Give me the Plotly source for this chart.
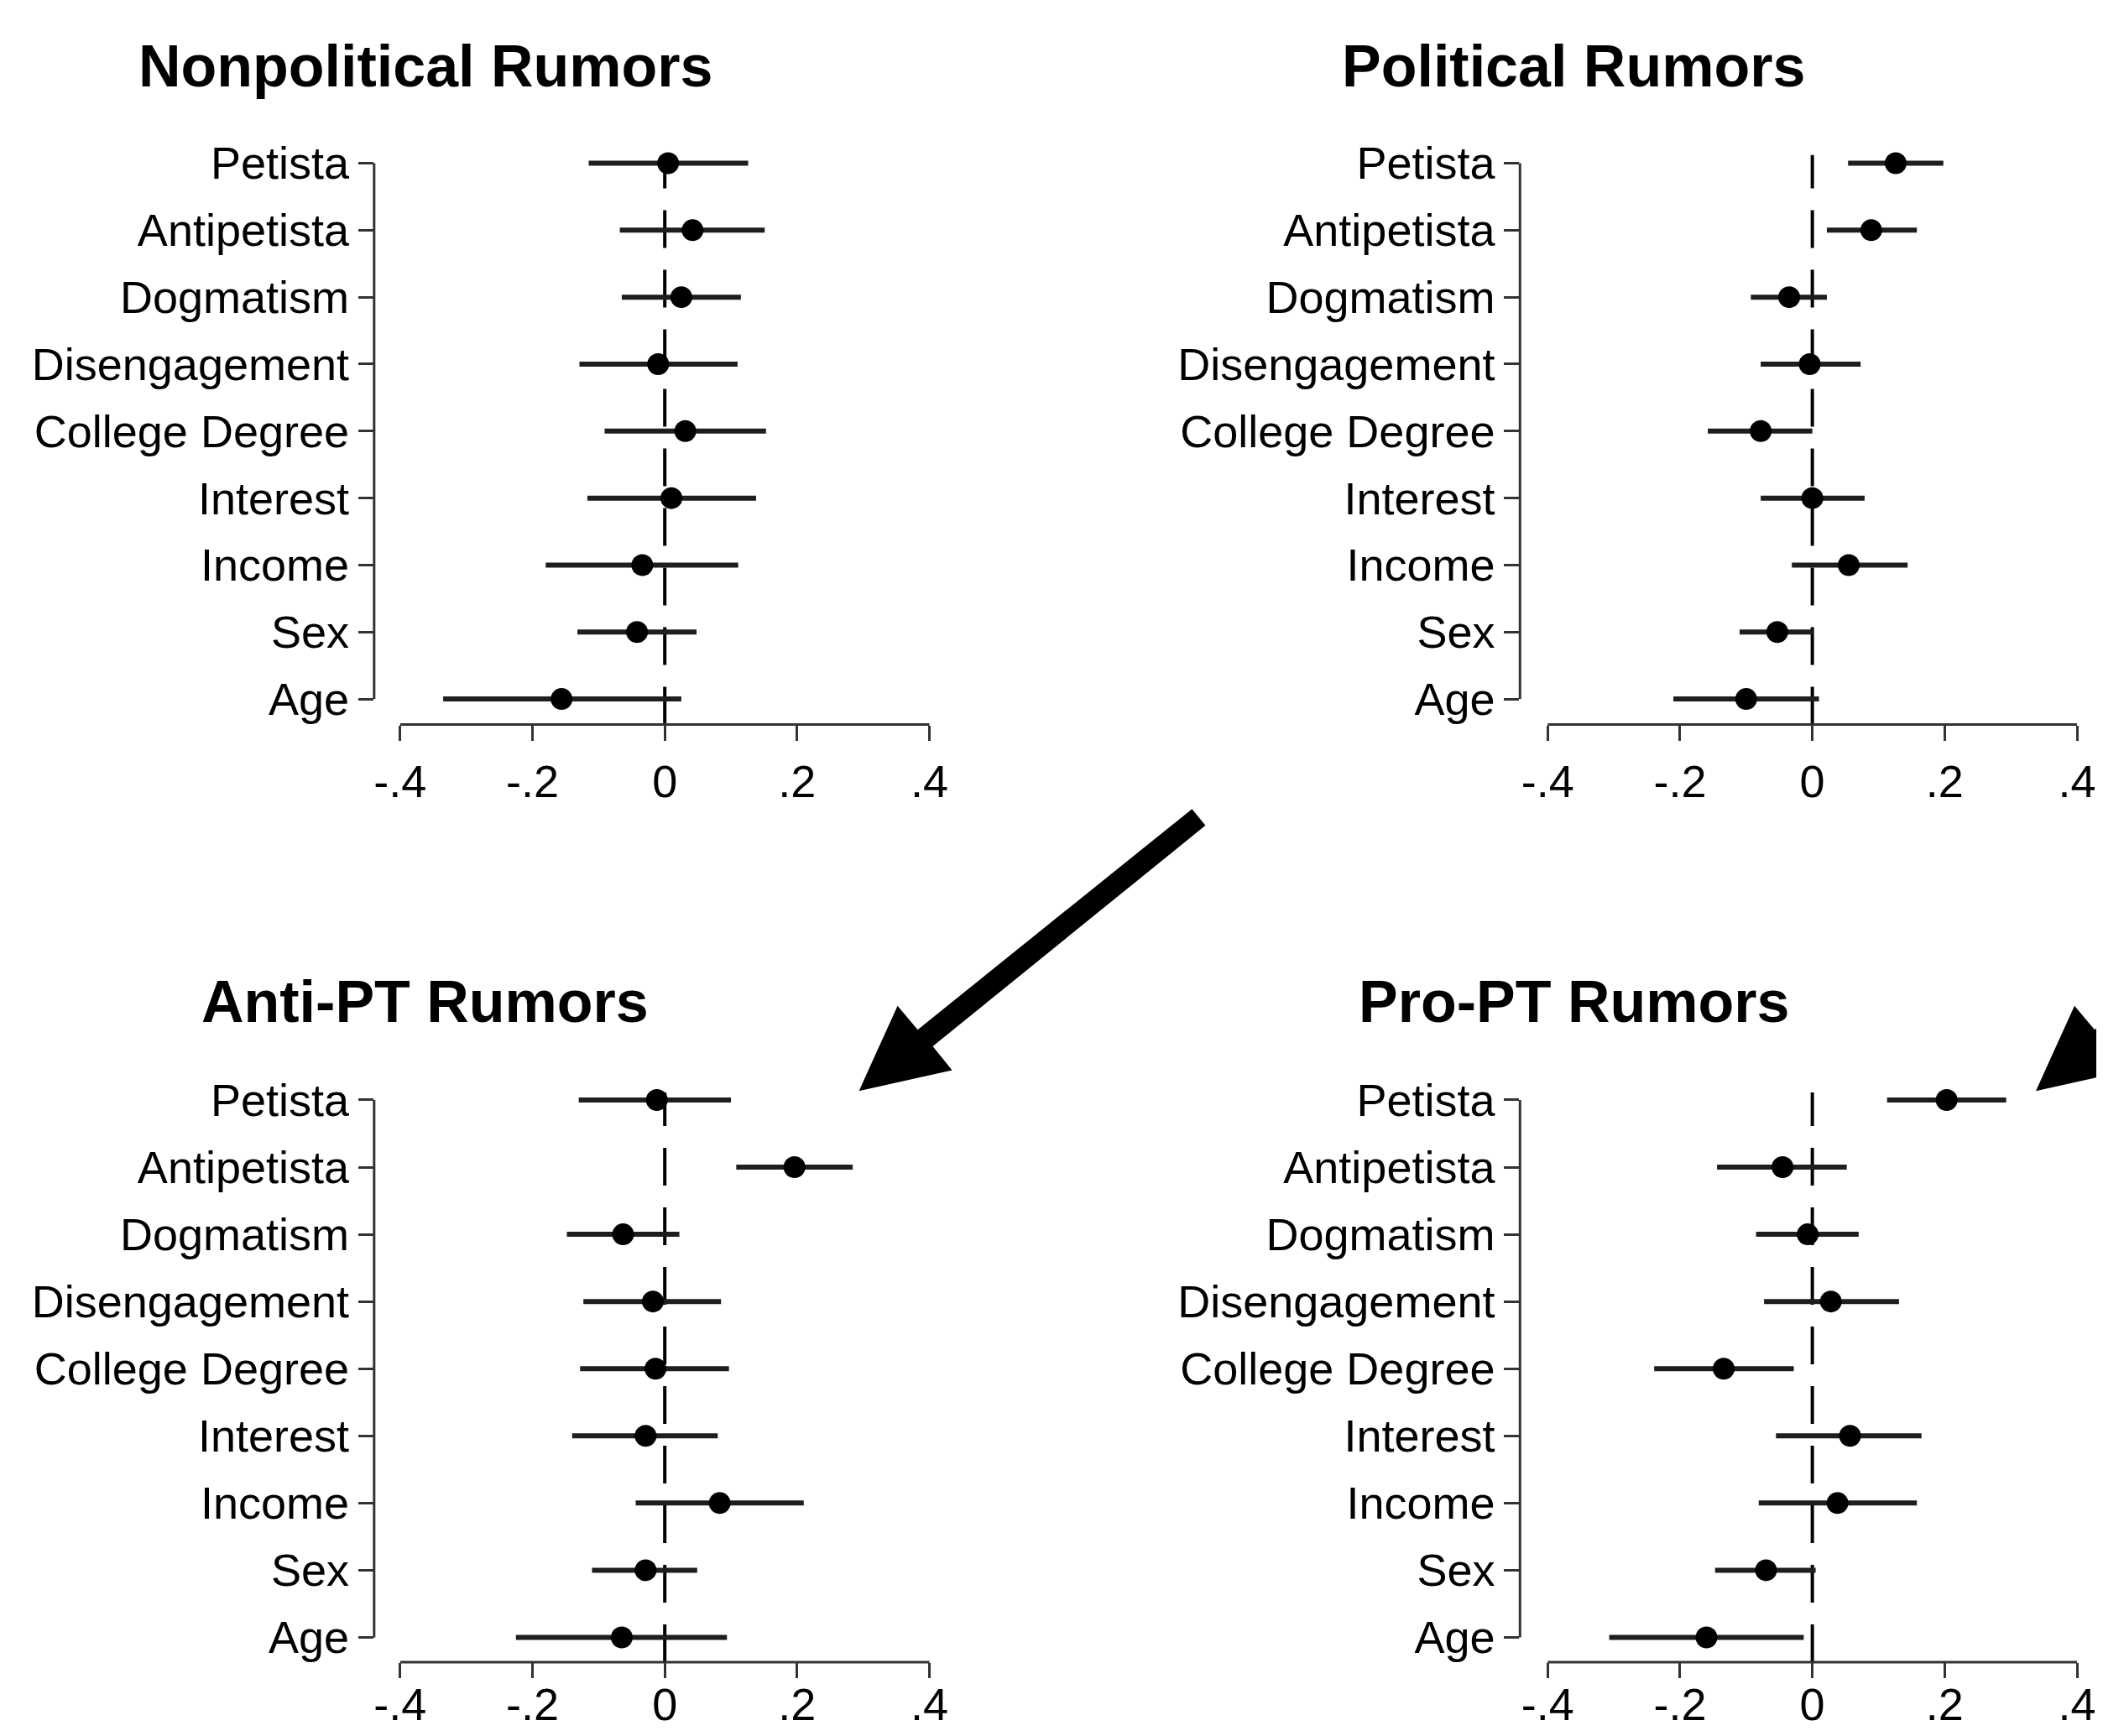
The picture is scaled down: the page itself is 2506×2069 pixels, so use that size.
import plotly.graph_objects as go

# the page body keeps an 8px margin; the figure is sized so the page never scrolls
OFF = 8
W, H = 2506 - 2 * OFF, 2069 - 2 * OFF

categories = ["Petista", "Antipetista", "Dogmatism", "Disengagement", "College Degree",
              "Interest", "Income", "Sex", "Age"]
x_tick_vals = [-0.4, -0.2, 0, 0.2, 0.4]
x_tick_text = ["-.4", "-.2", "0", ".2", ".4"]
panel_titles = ["Nonpolitical Rumors", "Political Rumors", "Anti-PT Rumors", "Pro-PT Rumors"]

# point estimates and 95% CI bounds
nonpol_est = [0.005, 0.042, 0.025, -0.010, 0.031, 0.010, -0.034, -0.042, -0.156]
nonpol_lo = [-0.115, -0.068, -0.065, -0.129, -0.091, -0.117, -0.180, -0.132, -0.335]
nonpol_hi = [0.126, 0.151, 0.115, 0.110, 0.153, 0.138, 0.111, 0.048, 0.025]

pol_est = [0.126, 0.089, -0.035, -0.004, -0.078, 0.000, 0.055, -0.053, -0.100]
pol_lo = [0.054, 0.022, -0.093, -0.078, -0.158, -0.078, -0.031, -0.110, -0.210]
pol_hi = [0.198, 0.158, 0.022, 0.073, 0.000, 0.079, 0.144, 0.001, 0.010]

antipt_est = [-0.012, 0.196, -0.063, -0.018, -0.014, -0.029, 0.083, -0.029, -0.065]
antipt_lo = [-0.130, 0.108, -0.148, -0.123, -0.128, -0.140, -0.044, -0.110, -0.225]
antipt_hi = [0.100, 0.284, 0.022, 0.085, 0.097, 0.080, 0.210, 0.049, 0.094]

propt_est = [0.203, -0.045, -0.007, 0.028, -0.134, 0.057, 0.038, -0.070, -0.160]
propt_lo = [0.113, -0.144, -0.085, -0.073, -0.239, -0.055, -0.081, -0.147, -0.307]
propt_hi = [0.293, 0.052, 0.070, 0.131, -0.028, 0.165, 0.158, 0.005, -0.013]

panels = [
    (nonpol_est, nonpol_lo, nonpol_hi),
    (pol_est, pol_lo, pol_hi),
    (antipt_est, antipt_lo, antipt_hi),
    (propt_est, propt_lo, propt_hi),
]

FONT = "Liberation Sans, Arial, Helvetica, sans-serif"
AXIS_COLOR = "#333333"

# pixel geometry of the Stata-style 2x2 grid (screen pixels)
cols = [dict(left=445, xm=476, xp=1107, right=1140, title_x=506),
        dict(left=1811, xm=1844, xp=2475, right=2506, title_x=1875)]
rows = [dict(top=166, first=176, last=824, bottom=855, title_y=59, standoff=3),
        dict(top=1300, first=1309, last=1959, bottom=1989, title_y=1190, standoff=-15)]


def px(x):
    return (x - OFF) / W


def py(y):
    return 1 - (y - OFF) / H


fig = go.Figure()
layout = {}
shapes = []
annotations = []
n = len(categories)
tmin, tmax = min(x_tick_vals), max(x_tick_vals)

for i, (est, lo, hi) in enumerate(panels):
    r, c = rows[i // 2], cols[i % 2]
    k = "" if i == 0 else str(i + 1)
    xa, ya = "x" + k, "y" + k

    xscale = (c["xp"] - c["xm"]) / (tmax - tmin)
    right = min(c["right"], OFF + W)
    xrange = [tmin - (c["xm"] - c["left"]) / xscale, tmax + (right - c["xp"]) / xscale]
    ystep = (r["last"] - r["first"]) / (n - 1)
    yrange = [-(r["bottom"] - r["last"]) / ystep, (n - 1) + (r["first"] - r["top"]) / ystep]

    layout["xaxis" + k] = dict(
        domain=[px(c["left"]), px(right)], range=xrange, anchor=ya,
        tickvals=x_tick_vals, ticktext=x_tick_text, ticks="outside", ticklen=18,
        tickwidth=3, tickcolor=AXIS_COLOR, showline=False, showgrid=False,
        zeroline=False, ticklabelstandoff=r["standoff"], ticklabeloverflow="allow",
        tickfont=dict(size=54, color="black", family=FONT),
    )
    layout["yaxis" + k] = dict(
        domain=[py(r["bottom"]), py(r["top"])], range=yrange, anchor=xa,
        type="category", categoryorder="array", categoryarray=categories[::-1],
        ticks="outside", ticklen=18, tickwidth=3, tickcolor=AXIS_COLOR,
        showline=False, showgrid=False, zeroline=False,
        tickfont=dict(size=54, color="black", family=FONT),
    )

    fig.add_trace(go.Scatter(
        x=est, y=categories, xaxis=xa, yaxis=ya, mode="markers",
        marker=dict(size=26, color="black"),
        error_x=dict(type="data", symmetric=False,
                     array=[h - e for h, e in zip(hi, est)],
                     arrayminus=[e - l for e, l in zip(est, lo)],
                     thickness=6, width=0, color="#1e1e1e"),
        cliponaxis=False, showlegend=False,
    ))

    # dashed reference line at zero
    shapes.append(dict(type="line", xref=xa, yref=ya + " domain", x0=0, x1=0, y0=0, y1=1,
                       line=dict(color="black", width=4, dash="45px,26px"), layer="below"))
    # axis lines that only span the ticks, like Stata
    shapes.append(dict(type="line", xref=xa, yref=ya + " domain", x0=tmin, x1=tmax, y0=0, y1=0,
                       line=dict(color=AXIS_COLOR, width=3)))
    shapes.append(dict(type="line", xref=xa + " domain", yref=ya, x0=0, x1=0, y0=0, y1=n - 1,
                       line=dict(color=AXIS_COLOR, width=3)))

    annotations.append(dict(
        text="<b>" + panel_titles[i] + "</b>", xref="paper", yref="paper",
        x=px(c["title_x"]), y=py(r["title_y"]), xanchor="center", yanchor="middle",
        showarrow=False, font=dict(size=70, color="black", family=FONT),
    ))

# big black arrows (outline relative to the tip)
arrow_outline = [(397, -341), (70, -74), (46, -103), (0, 0), (111, -25), (88, -54), (413, -321)]
arrow_tips = [(1023, 1298), (2426, 1298)]
for tx, ty in arrow_tips:
    pts = [(px(tx + dx), py(ty + dy)) for dx, dy in arrow_outline]
    path = "M " + " L ".join(f"{a:.5f},{b:.5f}" for a, b in pts) + " Z"
    shapes.append(dict(type="path", xref="paper", yref="paper", path=path,
                       fillcolor="black", line=dict(width=0)))

fig.update_layout(
    width=W, height=H,
    margin=dict(l=0, r=0, t=0, b=0),
    paper_bgcolor="white", plot_bgcolor="white",
    font=dict(family=FONT, color="black"),
    shapes=shapes, annotations=annotations,
    **layout,
)

fig.write_html("out.html")
